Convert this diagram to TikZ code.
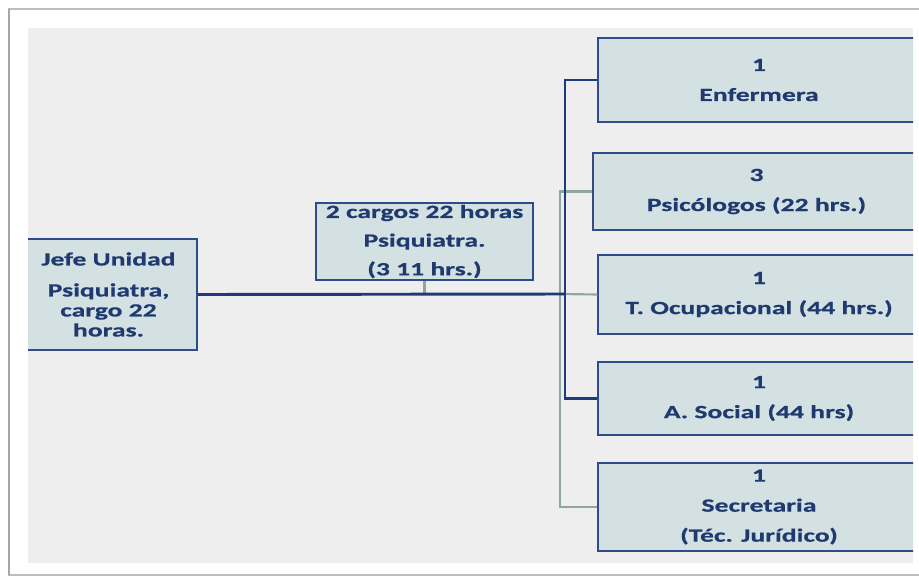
\documentclass[tikz,border=0pt]{standalone}
\usepackage{fontspec}
\newfontfamily\boxfont{Carlito}[FakeStretch=1.48, FakeBold=0.6]
\definecolor{bggray}{HTML}{EEEEEE}
\definecolor{boxfill}{HTML}{D4E1E2}
\definecolor{boxline}{HTML}{2F4B8A}
\definecolor{textblue}{HTML}{1F3A70}
\definecolor{mainline}{HTML}{1F3A7A}
\definecolor{subline}{HTML}{8FA89E}
\definecolor{cardline}{HTML}{BDBDBD}
\begin{document}
\begin{tikzpicture}[x=0.75pt,y=-0.75pt,
  orgbox/.style 2 args={draw=boxline, line width=1.1pt, fill=boxfill, inner sep=0pt,
    minimum width=#1*0.75pt, minimum height=#2*0.75pt, align=center,
    text=textblue, font=\boxfont\bfseries\fontsize{14pt}{22.5pt}\selectfont},
  mainconn/.style={draw=mainline, line width=2.2pt},
  subconn/.style={draw=subline, line width=1.6pt}]
  \useasboundingbox (0,0) rectangle (919,578);
  % card with its inner panel
  \fill[white] (0,0) rectangle (919,578);
  \draw[cardline, line width=0.8pt, fill=white] (9,9) rectangle (930,575);
  \draw[gray!70, line width=2.2pt] (9,9) -- (9,575);
  \fill[bggray] (28,28) rectangle (913,563);
  \begin{scope}
    \clip (28,28) rectangle (913,563);
    % boxes
    \node[orgbox={177}{111}, font=\boxfont\bfseries\fontsize{14pt}{15pt}\selectfont] (jefe) at (108.5,294.5)
      {Jefe Unidad\\[8.25pt]Psiquiatra,\\cargo 22\\horas.};
    \node[orgbox={217}{77}, font=\boxfont\bfseries\fontsize{14pt}{21.5pt}\selectfont] (psiq) at (424.5,241.5)
      {2 cargos 22 horas\\Psiquiatra.\\(3 11 hrs.)};
    \node[orgbox={322}{84}] (enf) at (759,80) {1\\Enfermera};
    \node[orgbox={327}{77}] (psic) at (756.5,191.5) {3\\Psicólogos (22 hrs.)};
    \node[orgbox={322}{79}] (toc) at (759,294.5) {1\\T. Ocupacional (44 hrs.)};
    \node[orgbox={322}{73}] (asoc) at (759,398.5) {1\\A. Social (44 hrs)};
    \node[orgbox={322}{88}] (sec) at (759,507) {1\\Secretaria\\(Téc. Jurídico)};
    \coordinate (hub) at (565,294);
    \coordinate (subhub) at (560,294);
    % secondary connectors
    \draw[subconn] (psiq.south) -- (psiq.south |- hub);
    \draw[subconn] (psic.west) -| (subhub);
    \draw[subconn] (sec.west) -| (subhub);
    \draw[subconn] (toc.west) -- (subhub);
    % main connectors
    \draw[mainconn] (jefe.east) -- (hub);
    \draw[mainconn] (enf.west) -| (hub);
    \draw[mainconn] (asoc.west) -| (hub);
  \end{scope}
\end{tikzpicture}
\end{document}
